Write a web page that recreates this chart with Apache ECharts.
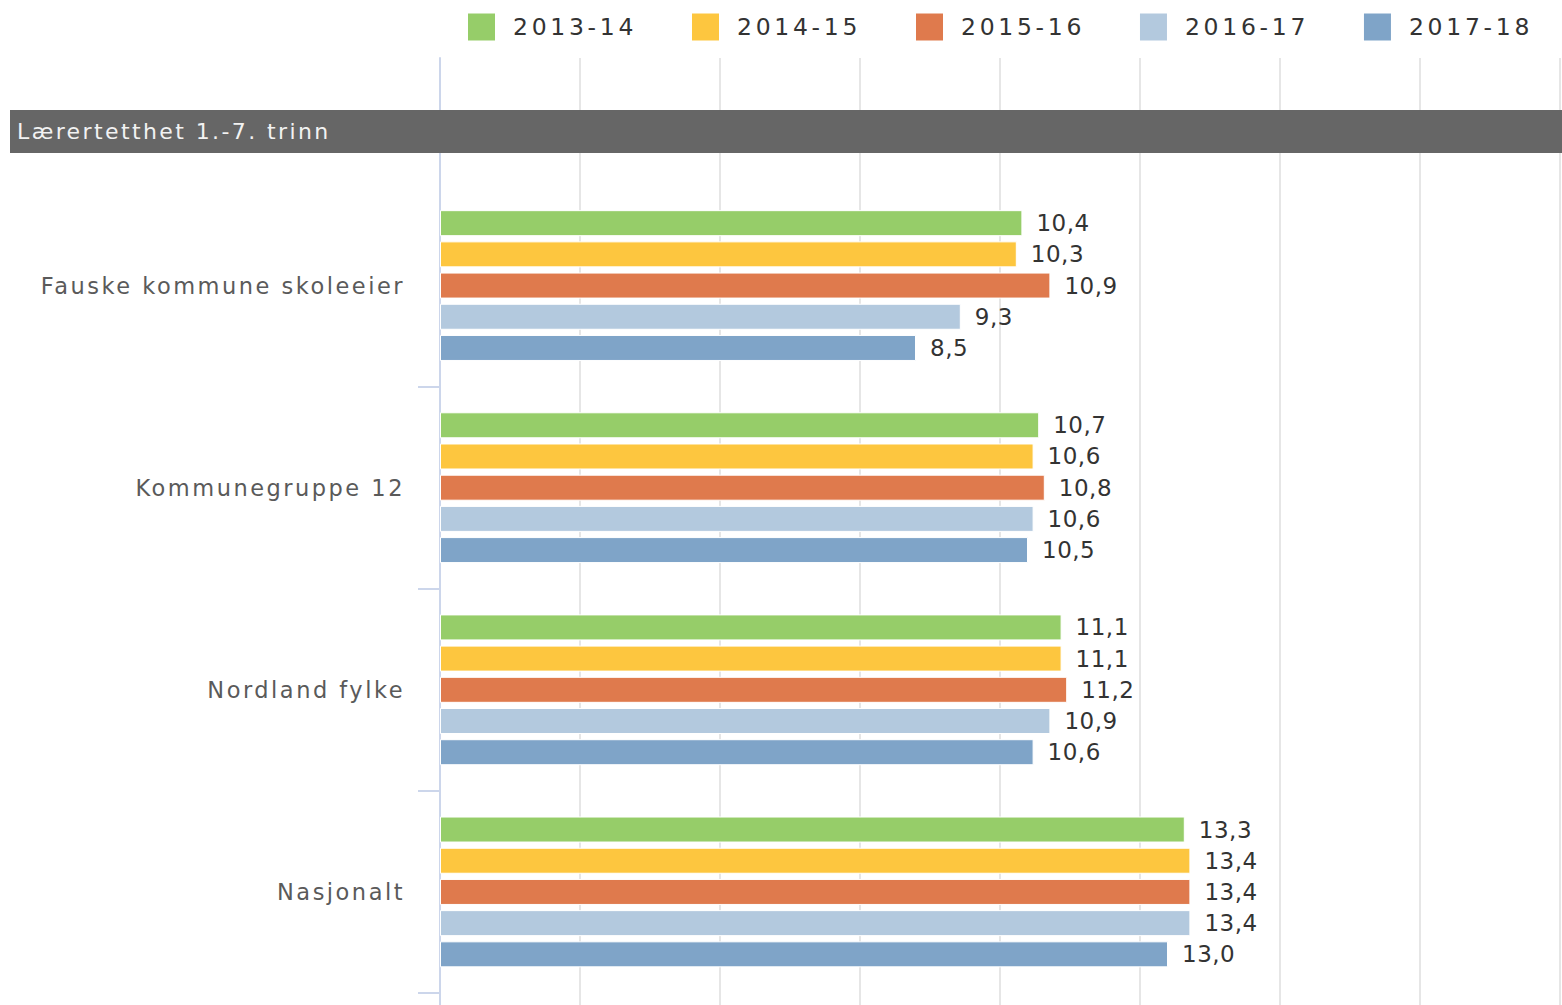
<!DOCTYPE html>
<html>
<head>
<meta charset="utf-8">
<title>Lærertetthet 1.-7. trinn</title>
<script src="https://cdn.jsdelivr.net/npm/echarts@6/dist/echarts.min.js"></script>
<style>
  html, body { margin: 0; padding: 0; background: #fff; }
  #chart { width: 1562px; height: 1005px; }
  /* wide tracking for the chart's text, keyed by font size */
  #chart text[style*="23.5px"] { letter-spacing: 3.7px; }
  #chart text[style*="22.5px"] { letter-spacing: 2.5px; }
  #chart text[style*="22px"]   { letter-spacing: 2.4px; }
  #chart text[style*="23px"]   { letter-spacing: 0.5px; }
</style>
</head>
<body>
<div id="chart"></div>
<script>
// Categories (top to bottom) and school years
const categories = ['Fauske kommune skoleeier', 'Kommunegruppe 12', 'Nordland fylke', 'Nasjonalt'];
const years = ['2013-14', '2014-15', '2015-16', '2016-17', '2017-18'];

// Teacher density per school year
const v2013_14 = [10.4, 10.7, 11.1, 13.3];
const v2014_15 = [10.3, 10.6, 11.1, 13.4];
const v2015_16 = [10.9, 10.8, 11.2, 13.4];
const v2016_17 = [9.3, 10.6, 10.9, 13.4];
const v2017_18 = [8.5, 10.5, 10.6, 13.0];

const seriesValues = [v2013_14, v2014_15, v2015_16, v2016_17, v2017_18];
const colors = ['#96cd69', '#fdc63f', '#df7a4d', '#b3c9de', '#7fa4c8'];

const FONT = '"DejaVu Sans", Verdana, sans-serif';
const fmt = v => v.toFixed(1).replace('.', ',');

const chart = echarts.init(document.getElementById('chart'), null, { renderer: 'svg' });

chart.setOption({
  animation: false,
  backgroundColor: '#ffffff',
  color: colors,
  legend: {
    top: 13.5,
    left: 468,
    padding: 0,
    itemWidth: 27,
    itemHeight: 27,
    itemGap: 80.8,
    icon: 'rect',
    itemStyle: { borderWidth: 0 },
    textStyle: { fontFamily: FONT, fontSize: 23.5, color: '#333333', padding: [0, 0, 0, 13] },
    data: years
  },
  grid: [
    { left: 440, right: 2, top: 58, bottom: 0 },
    { left: 440, right: 2, top: 184.5, height: 808.5 }
  ],
  xAxis: [
    {
      gridIndex: 0, type: 'value', min: 0, max: 20, interval: 2.5,
      axisLine: { show: false }, axisTick: { show: false }, axisLabel: { show: false },
      splitLine: { show: true, lineStyle: { color: '#e6e6e6', width: 2 } }
    },
    {
      gridIndex: 1, type: 'value', min: 0, max: 20, interval: 2.5, show: false,
      splitLine: { show: false }
    }
  ],
  yAxis: [
    {
      gridIndex: 0, type: 'value', min: 0, max: 1,
      axisLine: { show: true, lineStyle: { color: '#ccd6eb', width: 2 } },
      axisTick: { show: false }, axisLabel: { show: false }, splitLine: { show: false }
    },
    {
      gridIndex: 1, type: 'category', data: categories, inverse: true,
      axisLine: { show: false },
      axisTick: {
        show: true, length: 22,
        interval: (i) => i !== 0,
        lineStyle: { color: '#ccd6eb', width: 2 }
      },
      axisLabel: { margin: 35, fontFamily: FONT, fontSize: 22.5, color: '#5a5a5a' },
      splitLine: { show: false }
    }
  ],
  series: years.map((name, k) => ({
    name,
    type: 'bar',
    xAxisIndex: 1,
    yAxisIndex: 1,
    data: seriesValues[k],
    barWidth: 26,
    barGap: '20%',
    itemStyle: { color: colors[k], borderColor: '#ffffff', borderWidth: 1 },
    label: {
      show: true,
      position: 'right',
      distance: 14,
      formatter: p => fmt(p.value),
      fontFamily: FONT,
      fontSize: 23,
      color: '#333333'
    }
  })),
  graphic: [
    {
      type: 'rect', z: 100,
      shape: { x: 10, y: 110, width: 1552, height: 43 },
      style: { fill: '#666666' }
    },
    {
      type: 'text', z: 101, x: 17, y: 131.5,
      style: {
        text: 'Lærertetthet 1.-7. trinn', fill: '#f2f2f2',
        font: '22px ' + FONT, verticalAlign: 'middle'
      }
    }
  ]
});
</script>
</body>
</html>
